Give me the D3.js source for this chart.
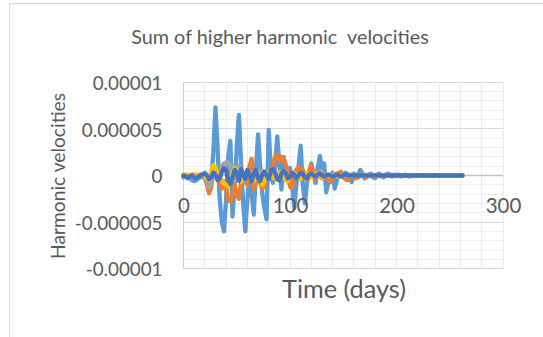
<!DOCTYPE html>
<html><head><meta charset="utf-8">
<script src="https://cdn.jsdelivr.net/npm/d3@7"></script>
<style>html,body{margin:0;padding:0;background:#fff;overflow:hidden}</style>
</head><body>
<svg id="chart" width="543" height="337"></svg>
<script>
// ---- data (velocities are stored in units of 1e-6) ----
const UNIT = 1e-6;
const days = [0,2,4,6,8,10,12,14,16,18, 20,22,24,26,28,30,32,34,36,38, 40,42,44,46,48,50,52,54,56,58,
  60,62,64,66,68,70,72,74,76,78, 80,82,84,86,88,90,92,94,96,98, 100,102,104,106,108,110,112,114,116,118,
  120,122,124,126,128,130,132,134,136,138, 140,142,144,146,148,150,152,154,156,158,
  160,162,164,166,168,170,172,174,176,178, 180,182,184,186,188,190,192,194,196,198,
  200,202,204,206,208,210,212,214,216,218, 220,222,224,226,228,230,232,234,236,238,
  240,242,244,246,248,250,252,254,256,258, 260,262];

const seriesBlue = [
  -0.2,-0.1,-0.3,-0.3,-0.5,-0.6,-0.5,-0.3,-0.2,0.1,
  0.3,0.0,-0.8,-0.6,2.5,7.3,3.0,-2.5,-5.0,-6.0,
  -2.5,2.0,3.7,-4.4,-1.0,3.0,6.5,1.5,-3.0,-6.0,
  -2.5,0.5,-2.0,-4.2,0.5,4.4,1.0,-2.0,-3.5,-4.7,
  4.9,0.5,-0.8,1.0,4.2,1.2,-1.5,2.0,0.6,-0.5,
  0.8,-1.0,-3.5,-1.0,1.0,3.2,-1.0,-3.0,-0.8,0.3,
  1.3,0.2,-0.8,0.8,2.1,0.8,1.3,-1.8,-0.8,-0.2,
  0.3,-1.4,-0.5,0.2,0.0,-0.2,0.3,0.2,-0.3,-0.7,
  0.2,-0.2,0.1,0.6,0.2,-0.3,-0.1,0.1,0.2,-0.2,
  -0.3,0.1,0.2,-0.1,-0.2,0.1,0.2,0.1,-0.1,0.1,
  0.0,0.1,-0.1,0.0,0.1,0.0,-0.1,0.0,0.0,0.0,
  0,0,0,0,0,0,0,0,0,0,
  0,0,0,0,0,0,0,0,0,0,
  0,0];
const seriesOrange = [
  -0.1,0.0,-0.1,0.0,0.1,0.0,-0.1,0.0,0.1,-0.1,
  -0.3,-1.0,-1.9,-1.2,0.2,0.5,-0.3,-0.8,-1.4,-0.6,
  -1.5,-2.6,-2.8,-2.3,-1.0,-2.0,-2.5,-0.8,0.3,-0.6,
  -1.0,1.0,1.8,-1.5,-0.8,0.2,-0.8,-1.4,-1.2,0.0,
  -0.3,0.3,1.2,2.0,2.2,1.5,2.0,1.8,1.2,0.2,
  -1.2,-1.3,0.0,0.6,0.9,0.2,0.6,0.0,-0.5,0.5,
  1.1,0.3,-0.4,0.3,0.4,-0.2,-0.3,0.0,-0.5,-0.7,
  -0.2,0.1,0.2,0.3,0.4,0.0,-0.4,-0.5,-0.2,0.1,
  -0.1,-0.3,-0.2,0.1,0.1,-0.1,-0.2,0.0,0.1,0.0,
  -0.1,0,0,0,0,0,0,0,0,0,
  0,0,0,0,0,0,0,0,0,0,
  0,0,0,0,0,0,0,0,0,0,
  0,0,0,0,0,0,0,0,0,0,
  0,0];
const seriesGray = [
  0.0,0.1,0.0,-0.1,0.0,0.1,0.0,-0.1,0.0,0.0,
  -0.2,-0.8,-1.3,-0.6,0.2,0.0,-0.2,0.3,1.0,1.3,
  1.4,1.4,1.0,0.2,-0.5,0.5,1.1,0.6,-0.2,-0.5,
  0.1,0.4,0.3,-0.3,-0.2,0.2,0.4,0.5,0.2,-0.3,
  0.1,0.3,0.2,-0.3,-0.2,0.1,0.3,0.2,-0.2,-0.4,
  -0.1,0.2,0.3,0.1,-0.1,-0.2,0.1,0.2,0.0,-0.2,
  -0.1,0.1,0.3,0.1,-0.1,-0.3,-0.1,0.1,0.0,-0.1,
  0.0,0.1,0.0,-0.1,0,0,0,0,0,0,
  0,0,0,0,0,0,0,0,0,0,
  0,0,0,0,0,0,0,0,0,0,
  0,0,0,0,0,0,0,0,0,0,
  0,0,0,0,0,0,0,0,0,0,
  0,0,0,0,0,0,0,0,0,0,
  0,0];
const seriesYellow = [
  0.1,0.0,0.1,0.0,-0.1,0.0,0.1,0.0,0.1,0.2,
  0.0,-0.3,-0.5,0.5,1.1,0.9,0.2,-0.3,-0.5,-0.9,
  -1.0,-1.2,-0.4,0.3,0.8,0.5,-0.2,-0.7,-0.4,0.2,
  0.5,0.2,-0.4,-0.6,-0.2,0.3,-0.4,-1.0,-0.6,0.1,
  0.4,0.2,-0.2,-0.4,-0.1,0.3,0.4,-0.1,-0.5,-0.6,
  -0.2,0.2,0.3,0.0,-0.3,-0.4,-0.1,0.2,0.3,0.0,
  -0.2,-0.1,0.1,0.2,0.0,-0.2,-0.1,0.1,0.0,0.0,
  0.0,0.1,0.0,-0.1,0,0,0,0,0,0,
  0,0,0,0,0,0,0,0,0,0,
  0,0,0,0,0,0,0,0,0,0,
  0,0,0,0,0,0,0,0,0,0,
  0,0,0,0,0,0,0,0,0,0,
  0,0,0,0,0,0,0,0,0,0,
  0,0];
const seriesDarkBlue = [
  0.0,-0.1,-0.2,-0.1,0.0,-0.2,-0.3,-0.1,0.0,0.1,
  0.2,0.0,-0.4,-0.2,0.3,0.1,-0.5,-0.3,0.4,0.8,
  0.5,-0.5,-0.9,-0.2,0.6,0.3,-0.6,0.7,0.2,-0.4,
  0.6,0.1,-0.6,0.2,0.6,-0.3,-0.6,0.1,0.4,0.0,
  -0.4,0.5,0.7,0.3,-0.4,-0.5,0.2,0.5,0.2,-0.3,
  -0.2,0.3,0.1,-0.3,0.0,0.3,0.2,-0.2,-0.3,0.1,
  0.2,0.0,-0.1,0.1,0.2,0.0,-0.1,0.0,0.1,0.0,
  -0.1,0.0,0.1,0.0,-0.1,0.0,0.1,0.0,0.0,0.0,
  0,0,0,0,0,0,0,0,0,0,
  0,0,0,0,0,0,0,0,0,0,
  0,0,0,0,0,0,0,0,0,0,
  0,0,0,0,0,0,0,0,0,0,
  0,0,0,0,0,0,0,0,0,0,
  0,0];

const yTicks = [0.00001, 0.000005, 0, -0.000005, -0.00001];
const yTickLabels = ["0.00001", "0.000005", "0", "-0.000005", "-0.00001"];
const xTicks = [0, 100, 200, 300];
const xTickLabels = ["0", "100", "200", "300"];
const title = "Sum of higher harmonic  velocities";
const xTitle = "Time (days)";
const yTitle = "Harmonic velocities";

const seriesList = [
  {name: "s1", values: seriesBlue,     color: "#5B9BD5"},
  {name: "s2", values: seriesOrange,   color: "#ED7D31"},
  {name: "s3", values: seriesGray,     color: "#A5A5A5"},
  {name: "s4", values: seriesYellow,   color: "#FFC000"},
  {name: "s5", values: seriesDarkBlue, color: "#4472C4"}
];

// ---- layout ----
const svg = d3.select("#chart");
const FONT = "Lato, 'Open Sans', sans-serif";
const TEXT = "#595959";
const x = d3.scaleLinear().domain([0, 300]).range([183.5, 503]);
const y = d3.scaleLinear().domain([-0.00001, 0.00001]).range([268.7, 82.3]);
const crisp = v => Math.round(v - 0.5) + 0.5;

// chart border
svg.append("rect").attr("x", 9.5).attr("y", 3.5).attr("width", 700).attr("height", 500)
  .attr("fill", "#fff").attr("stroke", "#d9d9d9");

// minor gridlines
const g = svg.append("g");
const minorY = d3.range(-10, 11).map(k => k * 1e-6);
g.selectAll(".hminor").data(minorY).join("line")
  .attr("x1", x(0)).attr("x2", x(300))
  .attr("y1", d => crisp(y(d))).attr("y2", d => crisp(y(d)))
  .attr("stroke", "#efefef").attr("stroke-width", 1);
const minorX = d3.range(0, 301, 20);
g.selectAll(".vminor").data(minorX).join("line")
  .attr("x1", d => crisp(x(d))).attr("x2", d => crisp(x(d)))
  .attr("y1", y(0.00001)).attr("y2", y(-0.00001))
  .attr("stroke", "#ececec").attr("stroke-width", 1);
// major horizontal gridlines
g.selectAll(".hmajor").data(yTicks).join("line")
  .attr("x1", x(0)).attr("x2", x(300))
  .attr("y1", d => crisp(y(d))).attr("y2", d => crisp(y(d)))
  .attr("stroke", "#d9d9d9").attr("stroke-width", 1);
// left edge
g.append("line").attr("x1", crisp(x(0))).attr("x2", crisp(x(0)))
  .attr("y1", y(0.00001)).attr("y2", y(-0.00001)).attr("stroke", "#d0d0d0");
// zero axis
g.append("line").attr("x1", x(0)).attr("x2", x(300))
  .attr("y1", crisp(y(0))).attr("y2", crisp(y(0)))
  .attr("stroke", "#bfbfbf").attr("stroke-width", 1.5);

// series
const line = d3.line().x((d, i) => x(days[i])).y(d => y(d * UNIT));
svg.append("g").selectAll("path").data(seriesList).join("path")
  .attr("d", s => line(s.values))
  .attr("fill", "none").attr("stroke", s => s.color)
  .attr("stroke-width", 4.3).attr("stroke-linejoin", "round").attr("stroke-linecap", "round");

// axes (labels only)
const xAxis = d3.axisBottom(x).tickValues(xTicks).tickSize(0).tickPadding(23)
  .tickFormat((d, i) => xTickLabels[i]);
const gx = svg.append("g").attr("transform", `translate(0,${y(0)})`).call(xAxis);
gx.select(".domain").remove();
gx.selectAll("text").attr("font-family", FONT).attr("font-size", 20.5).attr("fill", TEXT);

const yAxis = d3.axisLeft(y).tickValues(yTicks).tickSize(0).tickPadding(21)
  .tickFormat((d, i) => yTickLabels[i]);
const gy = svg.append("g").attr("transform", `translate(${x(0)},0)`).call(yAxis);
gy.select(".domain").remove();
gy.selectAll("text").attr("font-family", FONT).attr("font-size", 18.8).attr("fill", TEXT)
  .attr("dy", "0.38em");

// fit text width helper
function fit(sel, targetW, base) {
  sel.attr("font-size", base);
  const w = sel.node().getComputedTextLength();
  if (w > 0) sel.attr("font-size", base * targetW / w);
}

const t = svg.append("text").attr("x", 280).attr("y", 43.5).attr("text-anchor", "middle")
  .attr("font-family", FONT).attr("fill", TEXT).style("white-space", "pre").text(title);
fit(t, 298, 20);

const xt = svg.append("text").attr("x", 344).attr("y", 298).attr("text-anchor", "middle")
  .attr("font-family", FONT).attr("fill", TEXT).text(xTitle);
fit(xt, 124, 24);

const yt = svg.append("text").attr("transform", "translate(64.5,176) rotate(-90)")
  .attr("text-anchor", "middle").attr("font-family", FONT).attr("fill", TEXT).text(yTitle);
fit(yt, 166, 20);
</script>
</body></html>
